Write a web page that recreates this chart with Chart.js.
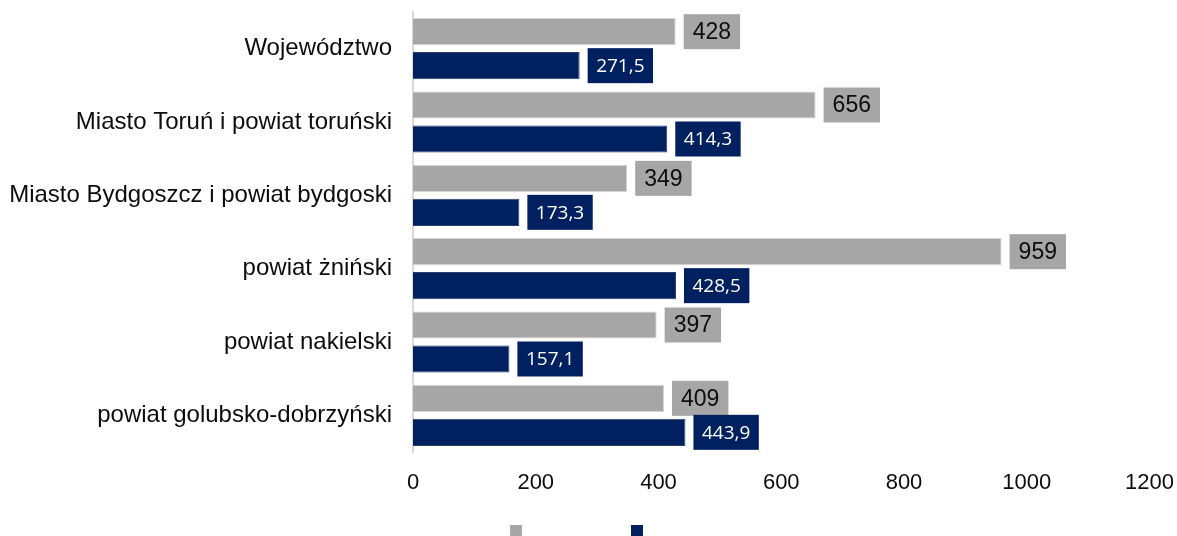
<!DOCTYPE html>
<html>
<head>
<meta charset="utf-8">
<script src="https://cdn.jsdelivr.net/npm/chart.js@4.4.1/dist/chart.umd.min.js"></script>
<style>
html,body{margin:0;padding:0;background:#fff}
#wrap{width:1177px;height:536px}
</style>
</head>
<body>
<div id="wrap"><canvas id="chart"></canvas></div>
<script>
// data
const regions = [
  'Województwo',
  'Miasto Toruń i powiat toruński',
  'Miasto Bydgoszcz i powiat bydgoski',
  'powiat żniński',
  'powiat nakielski',
  'powiat golubsko-dobrzyński'
];
const grayValues = [428, 656, 349, 959, 397, 409];
const navyValues = [271.5, 414.3, 173.3, 428.5, 157.1, 443.9];
const xTicks = [0, 200, 400, 600, 800, 1000, 1200];

const GRAY = '#a6a6a6';
const NAVY = '#002060';
const ARIAL = "'Liberation Sans', Arial, sans-serif";

// small square used as the legend marker (legend has no text)
function swatch(color){
  const c = document.createElement('canvas');
  c.width = 12; c.height = 12;
  const g = c.getContext('2d');
  g.fillStyle = color;
  g.fillRect(0, 0, 12, 12);
  return c;
}

// value boxes next to the bars
const labelStyle = [
  {font: '23px ' + ARIAL, color: '#0d0d0d', padX: 9, fmt: v => String(v)},
  {font: "19px 'Open Sans', sans-serif", color: '#ffffff', padX: 8.5, fmt: v => v.toFixed(1).replace('.', ',')}
];

const barLabels = {
  id: 'barLabels',
  afterDatasetsDraw(chart){
    const ctx = chart.ctx;
    chart.data.datasets.forEach((ds, i) => {
      const meta = chart.getDatasetMeta(i);
      const st = labelStyle[i];
      ctx.save();
      ctx.font = st.font;
      ctx.textAlign = 'center';
      ctx.textBaseline = 'middle';
      meta.data.forEach((bar, j) => {
        const txt = st.fmt(ds.data[j]);
        const w = ctx.measureText(txt).width + st.padX * 2;
        const h = 35;
        const left = bar.x + 8;
        ctx.fillStyle = ds.backgroundColor;
        ctx.fillRect(left, bar.y - h / 2, w, h);
        ctx.fillStyle = st.color;
        ctx.fillText(txt, left + w / 2, bar.y + 1);
      });
      ctx.restore();
    });
  }
};

new Chart(document.getElementById('chart'), {
  type: 'bar',
  data: {
    labels: regions,
    datasets: [
      {label: '', data: grayValues, backgroundColor: GRAY, borderColor: '#d4d4d4', borderWidth: 1, pointStyle: swatch(GRAY)},
      {label: '', data: navyValues, backgroundColor: NAVY, borderColor: '#2b3f6e', borderWidth: 1, pointStyle: swatch(NAVY)}
    ]
  },
  options: {
    indexAxis: 'y',
    responsive: true,
    maintainAspectRatio: false,
    animation: false,
    datasets: {bar: {categoryPercentage: 0.927, barPercentage: 0.8}},
    layout: {padding: {top: 12, left: 9.5, right: 27.5, bottom: -11}},
    plugins: {
      tooltip: {enabled: false},
      legend: {
        position: 'bottom',
        labels: {
          usePointStyle: true,
          pointStyleWidth: 105,
          padding: 10,
          font: {size: 12}
        }
      }
    },
    scales: {
      x: {
        min: 0, max: 1200,
        afterBuildTicks: s => { s.ticks = xTicks.map(v => ({value: v})); },
        afterFit: s => { s.height = 63; s.paddingLeft = 0; s.paddingRight = 0; },
        grid: {display: false, drawTicks: false},
        border: {display: false},
        ticks: {color: '#0d0d0d', font: {family: ARIAL, size: 22}, padding: 18, maxRotation: 0, callback: v => String(v)}
      },
      y: {
        afterFit: s => { s.width = 403.5; s.paddingTop = 0; s.paddingBottom = 0; },
        grid: {display: false, drawTicks: false},
        border: {display: true, color: '#d9d9d9', width: 2},
        ticks: {color: '#0d0d0d', font: {family: ARIAL, size: 24}, padding: 21}
      }
    }
  },
  plugins: [barLabels]
});
</script>
</body>
</html>
